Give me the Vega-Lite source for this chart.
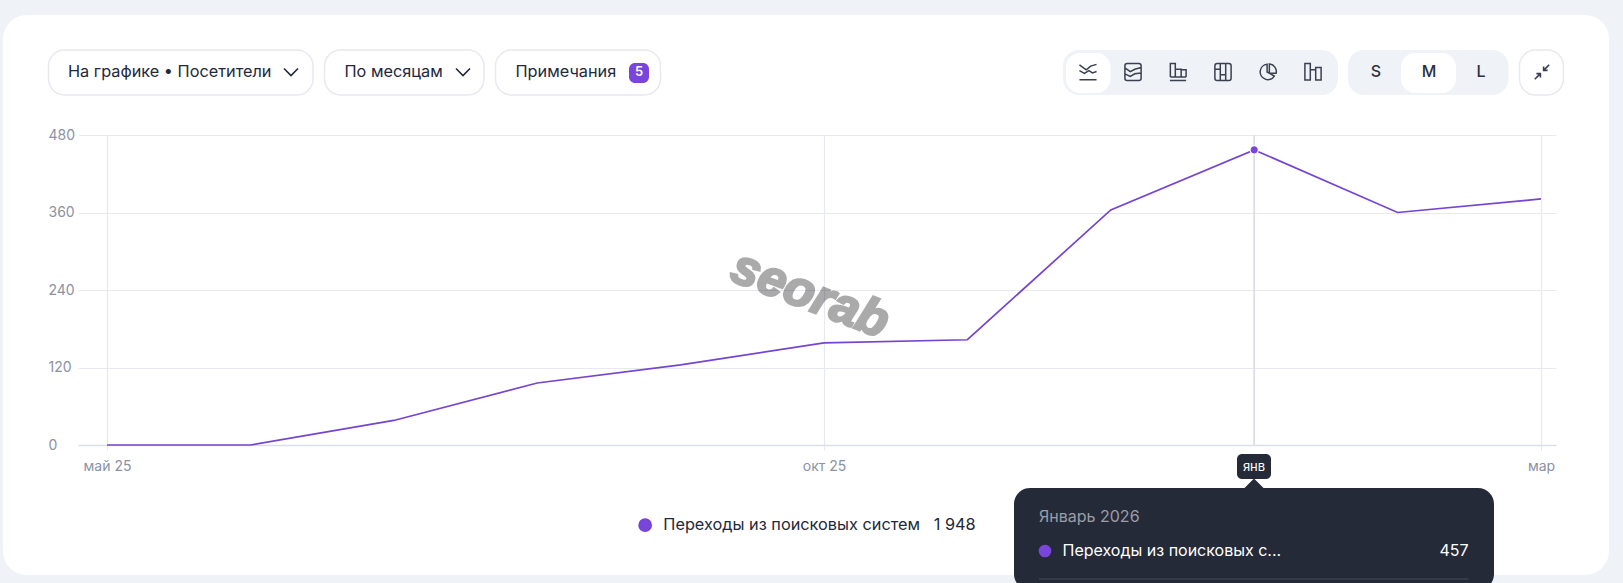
{
  "$schema": "https://vega.github.io/schema/vega-lite/v6.json",
  "description": "Переходы из поисковых систем по месяцам",
  "width": 1478,
  "height": 310,
  "padding": {"left": 78, "top": 135, "right": 67, "bottom": 138},
  "autosize": {"type": "none"},
  "background": "#ffffff",
  "config": {
    "font": "Inter",
    "view": {"stroke": null},
    "text": {"font": "Inter"}
  },
  "layer": [
    {
      "data": {
        "values": [
          {"month": "май 25", "visitors": 0, "series": "Переходы из поисковых систем"},
          {"month": "июн 25", "visitors": 0, "series": "Переходы из поисковых систем"},
          {"month": "июл 25", "visitors": 38, "series": "Переходы из поисковых систем"},
          {"month": "авг 25", "visitors": 96, "series": "Переходы из поисковых систем"},
          {"month": "сен 25", "visitors": 124, "series": "Переходы из поисковых систем"},
          {"month": "окт 25", "visitors": 158, "series": "Переходы из поисковых систем"},
          {"month": "ноя 25", "visitors": 163, "series": "Переходы из поисковых систем"},
          {"month": "дек 25", "visitors": 364, "series": "Переходы из поисковых систем"},
          {"month": "янв 26", "visitors": 457, "series": "Переходы из поисковых систем"},
          {"month": "фев 26", "visitors": 360, "series": "Переходы из поисковых систем"},
          {"month": "мар 26", "visitors": 381, "series": "Переходы из поисковых систем"}
        ]
      },
      "encoding": {
        "x": {
          "field": "month",
          "type": "nominal",
          "title": null,
          "sort": null,
          "scale": {
            "type": "point",
            "domain": ["май 25", "июн 25", "июл 25", "авг 25", "сен 25", "окт 25", "ноя 25", "дек 25", "янв 26", "фев 26", "мар 26"],
            "padding": 0.1534,
            "align": 0.659
          },
          "axis": {
            "values": ["май 25", "окт 25", "мар 26"],
            "labelExpr": "datum.value === 'мар 26' ? 'мар' : datum.value",
            "labelAngle": 0,
            "labelOverlap": false,
            "labelFontSize": 14,
            "labelColor": "#8a92a3",
            "labelPadding": 9,
            "labelBound": false,
            "labelFlush": false,
            "domainColor": "#dcdfe8",
            "domainWidth": 1.5,
            "tickColor": "#e7e9f0",
            "tickSize": 5,
            "grid": true,
            "gridColor": "#e7e9f0",
            "gridWidth": 1.2
          }
        },
        "y": {
          "field": "visitors",
          "type": "quantitative",
          "title": null,
          "scale": {"domain": [0, 480], "nice": false},
          "axis": {
            "values": [0, 120, 240, 360, 480],
            "domain": false,
            "ticks": false,
            "labelFontSize": 14,
            "labelColor": "#8a92a3",
            "labelAlign": "left",
            "labelPadding": 30,
            "grid": true,
            "gridColor": "#e7e9f0",
            "gridWidth": 1.2
          }
        }
      },
      "layer": [
        {
          "transform": [{"filter": "datum.month === 'янв 26'"}],
          "mark": {"type": "rule", "color": "#dcdde8", "strokeWidth": 1.8},
          "encoding": {
            "y": {"datum": 480},
            "y2": {"datum": 0}
          }
        },
        {
          "mark": {"type": "line", "strokeWidth": 1.7},
          "encoding": {
            "color": {
              "field": "series",
              "type": "nominal",
              "scale": {"range": ["#7544d2"]},
              "legend": {
                "title": null,
                "orient": "none",
                "legendX": 559,
                "legendY": 382,
                "symbolType": "circle",
                "symbolSize": 150,
                "symbolFillColor": "#7a45dd",
                "symbolStrokeColor": "#7a45dd",
                "labelFontSize": 16.3,
                "labelColor": "#23283a",
                "labelLimit": 400,
                "labelOffset": 10,
                "labelExpr": "datum.label + '\u00a0\u00a0\u00a01\u00a0948'"
              }
            }
          }
        },
        {
          "transform": [{"filter": "datum.month === 'янв 26'"}],
          "mark": {"type": "point", "filled": true, "size": 70, "color": "#7a45dd", "stroke": "#ffffff", "strokeWidth": 1.2, "opacity": 1}
        }
      ]
    },
    {
      "encoding": {
        "x": {
          "field": "col",
          "type": "quantitative",
          "axis": null,
          "scale": {
            "zero": false,
            "nice": false,
            "domain": [0, 1, 2, 3, 4, 5, 6, 7, 8, 9, 10, 11, 12, 13, 14, 15, 16, 17, 18, 19, 20, 21, 22, 23, 24, 25, 26, 27, 28, 29, 30, 31, 32, 33, 34, 35, 36, 37, 38, 39, 40, 41, 42, 43, 44, 45],
            "range": [-90, -29.5, -10, 213, 235, 246.5, 266.5, 385, 406, 417.5, 437.5, 551, 561, 571, 582.5, 732, 936, 961, 967, 984.5, 985, 988, 1010, 1032.5, 1055, 1100, 1145, 1159, 1176, 1190, 1193, 1235, 1260, 1270, 1298, 1323, 1351, 1378, 1390.5, 1403, 1416, 1430.5, 1441.5, 1464, 1485.5, 1546]
          }
        },
        "y": {
          "field": "row",
          "type": "quantitative",
          "axis": null,
          "scale": {
            "zero": false,
            "nice": false,
            "domain": [0, 1, 2, 3, 4, 5, 6, 7, 8, 9, 10, 11, 12, 13, 14, 15, 16, 17],
            "range": [-135, -85, -82, -72, -63, -52, -42, -40, 160, 319, 332, 344, 349, 353, 382, 416, 444, 455]
          }
        }
      },
      "layer": [
        {
          "data": {"values": [{"part": "страница", "col": 0, "colEnd": 45, "row": 0, "rowEnd": 17}]},
          "mark": {"type": "rect", "fill": null, "fillOpacity": 0, "stroke": "#eff2f7", "strokeWidth": 30, "cornerRadius": 39},
          "encoding": {"x2": {"field": "colEnd"}, "y2": {"field": "rowEnd"}}
        },
        {
          "data": {"values": [
            {"part": "показатель", "col": 1, "colEnd": 4, "row": 1, "rowEnd": 7},
            {"part": "группировка", "col": 5, "colEnd": 8, "row": 1, "rowEnd": 7},
            {"part": "примечания", "col": 9, "colEnd": 14, "row": 1, "rowEnd": 7},
            {"part": "развернуть", "col": 42, "colEnd": 44, "row": 1, "rowEnd": 7}
          ]},
          "mark": {"type": "rect", "fill": "#ffffff", "stroke": "#e7e9f0", "strokeWidth": 1.5, "cornerRadius": 16},
          "encoding": {"x2": {"field": "colEnd"}, "y2": {"field": "rowEnd"}}
        },
        {
          "data": {"values": [
            {"part": "типы", "col": 20, "colEnd": 32, "row": 1, "rowEnd": 7},
            {"part": "размеры", "col": 33, "colEnd": 41, "row": 1, "rowEnd": 7}
          ]},
          "mark": {"type": "rect", "fill": "#eff2f7", "cornerRadius": 16},
          "encoding": {"x2": {"field": "colEnd"}, "y2": {"field": "rowEnd"}}
        },
        {
          "data": {"values": [
            {"part": "линии", "col": 21, "colEnd": 23, "row": 2, "rowEnd": 6},
            {"part": "M", "col": 35, "colEnd": 37, "row": 2, "rowEnd": 6}
          ]},
          "mark": {"type": "rect", "fill": "#ffffff", "cornerRadius": 14},
          "encoding": {"x2": {"field": "colEnd"}, "y2": {"field": "rowEnd"}}
        },
        {
          "data": {"values": [{"part": "счётчик", "col": 11, "colEnd": 13, "row": 3, "rowEnd": 5}]},
          "mark": {"type": "rect", "fill": "#7a45dd", "cornerRadius": 6},
          "encoding": {"x2": {"field": "colEnd"}, "y2": {"field": "rowEnd"}}
        },
        {
          "data": {"values": [
            {"part": "подсказка", "col": 16, "colEnd": 40, "row": 13, "rowEnd": 17}
          ]},
          "mark": {"type": "rect", "fill": "#252a38", "cornerRadius": 16},
          "encoding": {"x2": {"field": "colEnd"}, "y2": {"field": "rowEnd"}}
        },
        {
          "data": {"values": [{"part": "метка", "col": 27, "colEnd": 30, "row": 9, "rowEnd": 11}]},
          "mark": {"type": "rect", "fill": "#252a38", "cornerRadius": 5},
          "encoding": {"x2": {"field": "colEnd"}, "y2": {"field": "rowEnd"}}
        },
        {
          "data": {"values": [{"part": "стрелка", "col": 28, "row": 12}]},
          "mark": {"type": "point", "shape": "M-1,.5 L0,-.5 L1,.5 Z", "size": 484, "filled": true, "color": "#252a38", "opacity": 1}
        },
        {
          "data": {"values": [{"part": "разделитель", "col": 17, "colEnd": 38, "row": 16}]},
          "mark": {"type": "rule", "color": "#3b4050", "strokeWidth": 1.5},
          "encoding": {"x2": {"field": "colEnd"}}
        },
        {
          "data": {"values": [{"part": "точка", "col": 18, "row": 15}]},
          "mark": {"type": "point", "shape": "circle", "size": 160, "filled": true, "color": "#7a45dd", "opacity": 1}
        },
        {
          "data": {"values": [
            {"part": "шеврон", "col": 3, "row": 4},
            {"part": "шеврон", "col": 7, "row": 4}
          ]},
          "mark": {"type": "point", "shape": "M-1,-.5 L0,.5 L1,-.5", "size": 196, "filled": false, "color": "#23283a", "strokeWidth": 1.6, "opacity": 1}
        },
        {
          "data": {"values": [
            {"icon": "линии", "col": 22, "row": 4},
            {"icon": "области", "col": 24, "row": 4},
            {"icon": "столбцы", "col": 25, "row": 4},
            {"icon": "карта", "col": 26, "row": 4},
            {"icon": "круг", "col": 29, "row": 4},
            {"icon": "колонки", "col": 31, "row": 4}
          ]},
          "mark": {"type": "point", "size": 324, "filled": false, "color": "#3a4050", "strokeWidth": 1.5, "opacity": 1},
          "encoding": {
            "shape": {
              "field": "icon",
              "type": "nominal",
              "legend": null,
              "scale": {
                "domain": ["линии", "области", "столбцы", "карта", "круг", "колонки"],
                "range": [
                  "M-.95,-.8 L-.2,-.25 L.3,-.65 L.95,-.85 M-.95,-.15 L-.4,.15 L.1,-.15 L.5,.1 L.95,-.05 M-.95,.85 H.95",
                  "M-.65,-.95 H.65 Q.9,-.95 .9,-.7 V.7 Q.9,.95 .65,.95 H-.65 Q-.9,.95 -.9,.7 V-.7 Q-.9,-.95 -.65,-.95 Z M-.9,-.45 L-.3,-.05 L.2,-.3 L.9,-.5 M-.9,.2 L-.3,.5 L.2,.2 L.9,.1",
                  "M-.9,.95 H.9 M-.85,.55 V-.95 H-.3 V.55 M-.85,.55 H.9 M-.3,-.3 H.35 V.55 M.35,-.25 H.9 V.55",
                  "M-.65,-.95 H.65 Q.9,-.95 .9,-.7 V.7 Q.9,.95 .65,.95 H-.65 Q-.9,.95 -.9,.7 V-.7 Q-.9,-.95 -.65,-.95 Z M-.3,-.95 V.95 M.3,-.95 V.95 M-.9,-.3 H-.3 M-.3,.3 H.3",
                  "M-.1,-.85 A.85,.85 0 1 0 .7,.45 L-.1,0 Z M.15,-.9 A.85,.85 0 0 1 .9,.15 L.15,.15 Z",
                  "M-.9,.9 V-.95 H-.3 V.9 Z M-.3,.9 V-.25 H.3 V.9 M.3,.9 V-.5 H.9 V.9 Z"
                ]
              }
            }
          }
        },
        {
          "data": {"values": [{"part": "развернуть", "col": 43, "row": 4}]},
          "mark": {"type": "point", "shape": "M-.9,.9 L-.2,.2 M-.7,.2 H-.2 V.7 M.9,-.9 L.2,-.2 M.2,-.7 V-.2 H.7", "size": 256, "filled": false, "color": "#3a4050", "strokeWidth": 1.6, "opacity": 1}
        },
        {
          "data": {"values": [
            {"label": "На графике • Посетители", "col": 2, "row": 4},
            {"label": "По месяцам", "col": 6, "row": 4},
            {"label": "Примечания", "col": 10, "row": 4}
          ]},
          "mark": {"type": "text", "align": "left", "baseline": "middle", "fontSize": 16.3, "color": "#23283a"},
          "encoding": {"text": {"field": "label"}}
        },
        {
          "data": {"values": [{"label": "5", "col": 12, "row": 4}]},
          "mark": {"type": "text", "align": "center", "baseline": "middle", "fontSize": 13, "fontWeight": 600, "color": "#ffffff"},
          "encoding": {"text": {"field": "label"}}
        },
        {
          "data": {"values": [
            {"label": "S", "col": 34, "row": 4},
            {"label": "M", "col": 36, "row": 4},
            {"label": "L", "col": 39, "row": 4}
          ]},
          "mark": {"type": "text", "align": "center", "baseline": "middle", "fontSize": 16, "fontWeight": 500, "color": "#2a2f3d"},
          "encoding": {"text": {"field": "label"}}
        },
        {
          "data": {"values": [{"label": "янв", "col": 28, "row": 10}]},
          "mark": {"type": "text", "align": "center", "baseline": "middle", "fontSize": 13, "color": "#ffffff"},
          "encoding": {"text": {"field": "label"}}
        },
        {
          "data": {"values": [{"label": "Январь 2026", "col": 17, "row": 14}]},
          "mark": {"type": "text", "align": "left", "baseline": "middle", "fontSize": 16, "color": "#9a9ea8"},
          "encoding": {"text": {"field": "label"}}
        },
        {
          "data": {"values": [{"label": "Переходы из поисковых с...", "col": 19, "row": 15}]},
          "mark": {"type": "text", "align": "left", "baseline": "middle", "fontSize": 16, "color": "#ffffff"},
          "encoding": {"text": {"field": "label"}}
        },
        {
          "data": {"values": [{"label": "457", "col": 38, "row": 15}]},
          "mark": {"type": "text", "align": "right", "baseline": "middle", "fontSize": 16, "color": "#ffffff"},
          "encoding": {"text": {"field": "label"}}
        },
        {
          "data": {"values": [{"label": "seorab", "col": 15, "row": 8}]},
          "mark": {"type": "text", "align": "center", "baseline": "middle", "font": "Liberation Sans", "fontSize": 50, "fontWeight": "bold", "fontStyle": "italic", "color": "#000000", "opacity": 0.33, "stroke": "#000000", "strokeWidth": 2.5, "angle": 21},
          "encoding": {"text": {"field": "label"}}
        }
      ]
    }
  ],
  "resolve": {"scale": {"x": "independent", "y": "independent"}}
}
